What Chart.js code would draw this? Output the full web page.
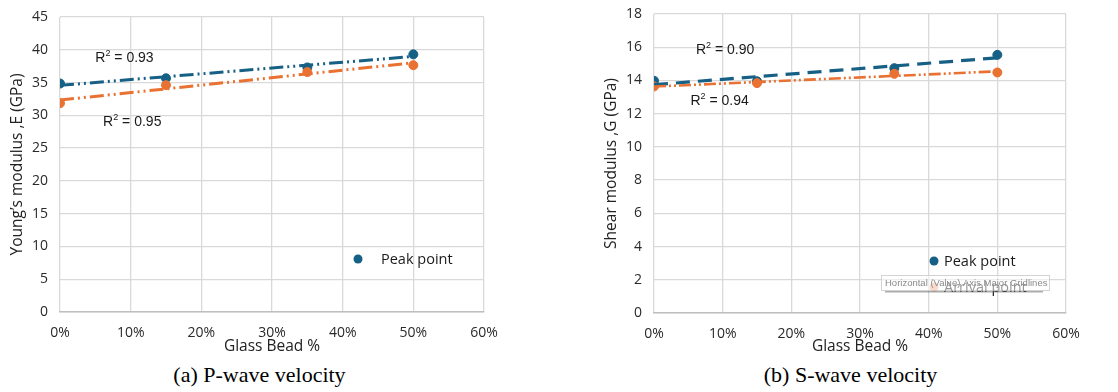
<!DOCTYPE html>
<html>
<head>
<meta charset="utf-8">
<script src="https://cdn.jsdelivr.net/npm/chart.js@4"></script>
<style>
    body { margin: 0; background: #fff; width: 1118px; height: 392px; position: relative; overflow: hidden; }
    .panel { position: absolute; top: 0; width: 559px; height: 362px; }
    .caption { position: absolute; top: 362px; width: 559px; text-align: center;
               font-family: "Liberation Serif", "Times New Roman", serif; font-size: 22px; color: #000; }
</style>
</head>
<body>
<div class="panel" style="left:0"><canvas id="pChart" width="559" height="362"></canvas></div>
<div class="panel" style="left:560px"><canvas id="sChart" width="558" height="362"></canvas></div>
<div class="caption" style="left:-20px">(a) P-wave velocity</div>
<div class="caption" style="left:571px">(b) S-wave velocity</div>

<script>
// Glass bead content (%) and measured moduli (GPa)
const glassBead = [0, 15, 35, 50];
const pPeak = [34.85, 35.65, 37.3, 39.3];
const pArrival = [31.85, 34.6, 36.6, 37.65];
const sPeak = [13.98, 13.95, 14.74, 15.54];
const sArrival = [13.64, 13.84, 14.4, 14.48];
const pR2 = ['0.93', '0.95'];
const sR2 = ['0.90', '0.94'];
const xTicks = [0, 10, 20, 30, 40, 50, 60];

const BLUE = '#176085';
const ORANGE = '#e97132';
const tickFont = { family: 'Open Sans, Liberation Sans', size: 14 };
const titleFont = { family: 'Open Sans, Liberation Sans', size: 15.5 };

// least-squares line through the measured points
function trend(xs, ys) {
    const n = xs.length;
    const mx = xs.reduce((a, b) => a + b) / n;
    const my = ys.reduce((a, b) => a + b) / n;
    let sxy = 0, sxx = 0;
    xs.forEach((x, i) => { sxy += (x - mx) * (ys[i] - my); sxx += (x - mx) ** 2; });
    const k = sxy / sxx;
    const b = my - k * mx;
    const x0 = Math.min(...xs), x1 = Math.max(...xs);
    return [{ x: x0, y: b + k * x0 }, { x: x1, y: b + k * x1 }];
}

function pts(ys) {
    return glassBead.map((x, i) => ({ x: x, y: ys[i] }));
}

// R² labels and in-plot legend
const extras = {
    id: 'extras',
    afterDatasetsDraw(chart) {
        const cfg = chart.options.plugins.extras;
        const ctx = chart.ctx;
        const xs = chart.scales.x, ys = chart.scales.y;
        ctx.save();
        ctx.fillStyle = '#1a1a1a';
        ctx.textBaseline = 'alphabetic';
        cfg.labels.forEach(l => {
            const px = xs.getPixelForValue(l.x), py = ys.getPixelForValue(l.y);
            ctx.font = '14px "Liberation Sans", Arial';
            ctx.fillText('R', px, py);
            const w = ctx.measureText('R').width;
            ctx.font = '9px "Liberation Sans", Arial';
            ctx.fillText('2', px + w, py - 6);
            ctx.font = '14px "Liberation Sans", Arial';
            ctx.fillText(' = ' + l.text, px + w + 5, py);
        });
        const area = chart.chartArea;
        cfg.legend.forEach((item, i) => {
            const lx = area.left + cfg.legendPos[0];
            const ly = area.top + cfg.legendPos[1] + i * 26;
            ctx.beginPath();
            ctx.arc(lx, ly, 4.5, 0, Math.PI * 2);
            ctx.fillStyle = item.color;
            ctx.fill();
            ctx.fillStyle = '#1a1a1a';
            ctx.font = '14.5px "Open Sans", "Liberation Sans"';
            ctx.textBaseline = 'middle';
            ctx.fillText(item.text, lx + cfg.legendGap, ly + 1);
        });
        if (cfg.hint) {
            const h = cfg.hint;
            const bx = area.left + h.x, by = area.top + h.y;
            ctx.fillStyle = 'rgba(255,255,255,0.55)';
            ctx.fillRect(bx, by, h.w, 15);
            ctx.strokeStyle = 'rgba(200,200,200,0.8)';
            ctx.lineWidth = 1;
            ctx.strokeRect(bx + 0.5, by + 0.5, h.w, 15);
            ctx.fillStyle = 'rgba(90,90,90,0.5)';
            ctx.fillRect(bx + 4, by + 16, h.w - 10, 1.5);
            ctx.fillStyle = '#8a8a8a';
            ctx.font = '9.5px "Liberation Sans", Arial';
            ctx.textBaseline = 'middle';
            ctx.fillText(h.text, bx + 4, by + 8);
        }
        ctx.restore();
    }
};

function makeChart(id, peak, arrival, yMax, yStep, yTitle, lines, extraCfg, yWidth, padRight, titlePad) {
    return new Chart(document.getElementById(id), {
        type: 'scatter',
        data: {
            datasets: [
                { data: trend(glassBead, arrival), type: 'line', borderColor: ORANGE, borderWidth: lines.orangeW,
                  borderDash: lines.orangeDash, pointRadius: 0, fill: false, order: 1 },
                { data: trend(glassBead, peak), type: 'line', borderColor: BLUE, borderWidth: lines.blueW,
                  borderDash: lines.blueDash, pointRadius: 0, fill: false, order: 2 },
                { data: pts(arrival), backgroundColor: ORANGE, borderColor: ORANGE, pointRadius: 4.5, order: 3 },
                { data: pts(peak), backgroundColor: BLUE, borderColor: BLUE, pointRadius: 4.5, order: 4 }
            ]
        },
        options: {
            responsive: false,
            animation: false,
            layout: { padding: { top: lines.padTop, right: padRight, left: 0, bottom: 0 } },
            plugins: { legend: { display: false }, tooltip: { enabled: false }, extras: extraCfg },
            scales: {
                x: {
                    type: 'linear', min: 0, max: 60,
                    afterBuildTicks: s => { s.ticks = xTicks.map(v => ({ value: v })); },
                    afterFit: s => { s.height = lines.xHeight; },
                    grid: { color: '#d9d9d9', lineWidth: 1.3, drawTicks: false },
                    border: { color: '#bfbfbf', width: 1.5 },
                    ticks: { padding: 13, font: tickFont, color: '#2a2a2a', callback: v => v + '%' },
                    title: { display: true, text: 'Glass Bead %', font: titleFont, color: '#222',
                             padding: { top: 0, bottom: 6 } }
                },
                y: {
                    min: 0, max: yMax,
                    ticks: { stepSize: yStep, padding: 3, font: tickFont, color: '#2a2a2a' },
                    afterFit: s => { s.width = yWidth; },
                    // invisible tick marks keep the labels off the plot without padding the top
                    grid: { color: '#d9d9d9', lineWidth: 1.3, drawTicks: true, tickLength: 9, tickColor: 'rgba(0,0,0,0)' },
                    border: { display: false },
                    title: { display: true, text: yTitle, font: titleFont, color: '#222',
                             padding: { top: titlePad, bottom: 0 } }
                }
            }
        },
        plugins: [extras]
    });
}

makeChart('pChart', pPeak, pArrival, 45, 5, 'Young\u2019s modulus ,E (GPa)',
    { blueW: 3, blueDash: [14, 4, 2, 4, 2, 4], orangeW: 3, orangeDash: [14, 4, 2, 4, 2, 4], padTop: 17, xHeight: 50 },
    {
        labels: [{ x: 5.0, y: 38.1, text: pR2[0] }, { x: 6.1, y: 28.4, text: pR2[1] }],
        legend: [{ text: 'Peak point', color: BLUE }],
        legendPos: [298, 242], legendGap: 23
    }, 60, 75, 8);

makeChart('sChart', sPeak, sArrival, 18, 2, 'Shear modulus ,G (GPa)',
    { blueW: 3.2, blueDash: [14, 8], orangeW: 2.6, orangeDash: [12, 3, 2, 3, 2, 3], padTop: 14, xHeight: 49 },
    {
        labels: [{ x: 6.1, y: 15.6, text: sR2[0] }, { x: 5.3, y: 12.5, text: sR2[1] }],
        legend: [{ text: 'Peak point', color: BLUE }, { text: 'Arrival point', color: '#f2b08c' }],
        legendPos: [280, 247], legendGap: 10,
        hint: { x: 227, y: 261, w: 168, text: 'Horizontal (Value) Axis Major Gridlines' }
    }, 94, 52, 42);
</script>
</body>
</html>
